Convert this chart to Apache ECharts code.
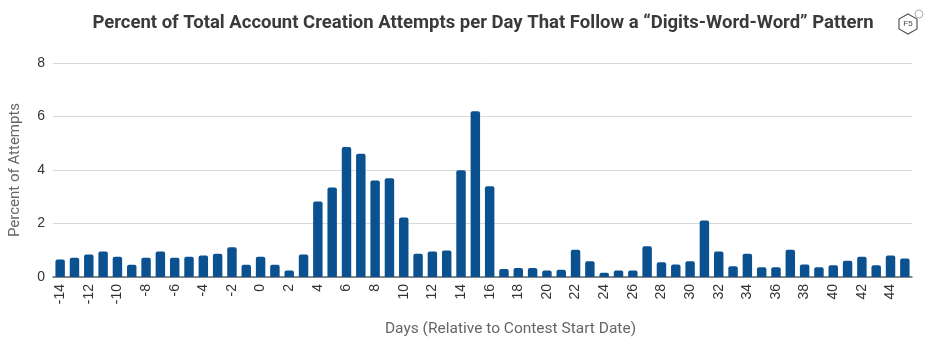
<!DOCTYPE html>
<html>
<head>
<meta charset="utf-8">
<script src="https://cdn.jsdelivr.net/npm/echarts@6/dist/echarts.min.js"></script>
<style>html,body{margin:0;padding:0;background:#fff}#c{width:936px;height:358px}</style>
</head>
<body>
<div id="c"></div>
<script>
const days = [];
for (let d = -14; d <= 45; d++) days.push(String(d));
const percents = [
  0.65, 0.72, 0.84, 0.95, 0.76, 0.46, 0.72, 0.95, 0.72, 0.76,
  0.80, 0.87, 1.11, 0.46, 0.76, 0.46, 0.24, 0.84, 2.82, 3.35,
  4.86, 4.61, 3.61, 3.69, 2.22, 0.87, 0.95, 0.99, 3.99, 6.20,
  3.39, 0.30, 0.34, 0.34, 0.24, 0.27, 1.02, 0.59, 0.16, 0.24,
  0.24, 1.15, 0.55, 0.47, 0.59, 2.11, 0.95, 0.40, 0.87, 0.36,
  0.36, 1.02, 0.47, 0.36, 0.44, 0.61, 0.76, 0.44, 0.80, 0.69
];
const yTicks = [0, 2, 4, 6, 8];
const titleText = 'Percent of Total Account Creation Attempts per Day That Follow a \u201cDigits-Word-Word\u201d Pattern';

const chart = echarts.init(document.getElementById('c'));
chart.setOption({
  animation: false,
  title: {
    text: titleText, left: 478, top: 9, textAlign: 'center',
    textStyle: { fontFamily: 'Roboto', fontWeight: 'bold', fontSize: 18.5, color: '#3a3a3a' }
  },
  grid: { left: 52, right: 24, top: 63, bottom: 81, containLabel: false },
  xAxis: {
    type: 'category', data: days,
    name: 'Days (Relative to Contest Start Date)', nameLocation: 'middle', nameGap: 44,
    nameTextStyle: { fontFamily: 'Roboto', fontSize: 15.5, color: '#666', padding: [0, 0, 0, 56] },
    axisLine: { lineStyle: { color: '#666', width: 1.5 } },
    axisTick: { show: false },
    axisLabel: { interval: 1, rotate: 90, fontFamily: 'Liberation Sans', fontSize: 14, color: '#333', margin: 7 }
  },
  yAxis: {
    type: 'value', min: yTicks[0], max: yTicks[yTicks.length - 1], interval: 2,
    name: 'Percent of Attempts', nameLocation: 'middle', nameGap: 30,
    nameTextStyle: { fontFamily: 'Roboto', fontSize: 15, color: '#666', padding: [0, 0, 0, 0] },
    axisLine: { show: false }, axisTick: { show: false },
    axisLabel: { fontFamily: 'Liberation Sans', fontSize: 14, color: '#333', margin: 8 },
    splitLine: { lineStyle: { color: '#d9d9d9', width: 1 } }
  },
  series: [{
    type: 'bar', data: percents, barCategoryGap: '34%',
    itemStyle: { color: '#0b5190', borderRadius: [2, 2, 0, 0] }
  }],
  graphic: [
    { type: 'polygon', shape: { points: [[908,14],[917,19],[917,29],[908,34],[899,29],[899,19]] },
      style: { fill: 'none', stroke: '#555', lineWidth: 1.2 } },
    { type: 'text', x: 908, y: 24, style: { text: 'F5', fontSize: 8, fontFamily: 'Liberation Sans', fill: '#444', align: 'center', verticalAlign: 'middle' } },
    { type: 'circle', shape: { cx: 919, cy: 14, r: 4 }, style: { fill: '#fff', stroke: '#999', lineWidth: 0.8 } }
  ]
});
</script>
</body>
</html>
